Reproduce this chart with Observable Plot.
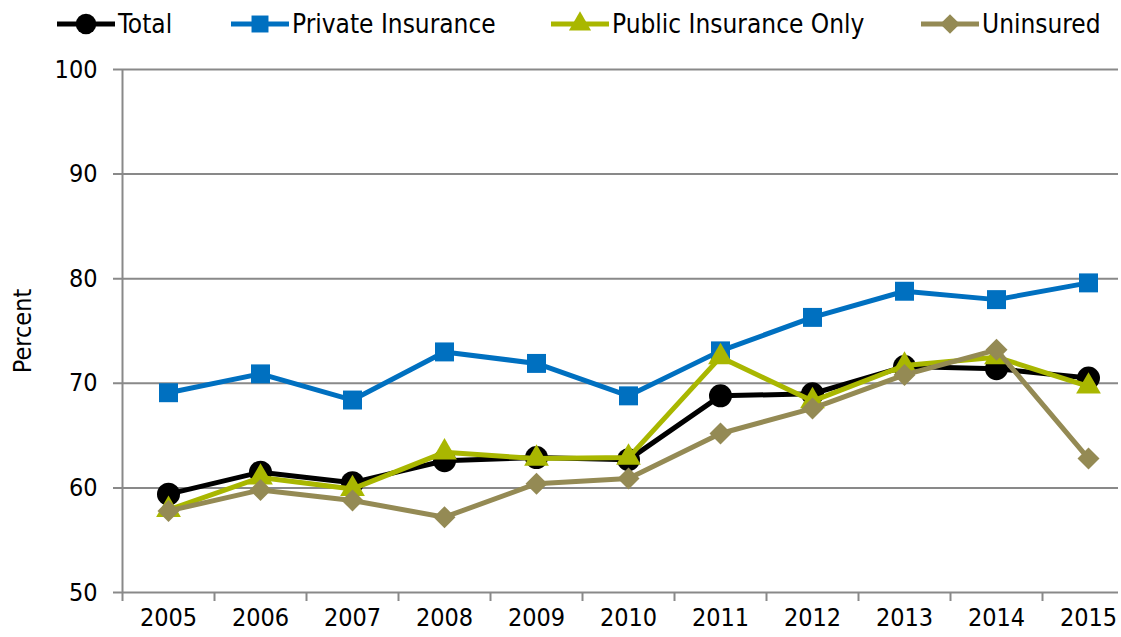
<!DOCTYPE html>
<html><head><meta charset="utf-8">
<script src="https://cdn.jsdelivr.net/npm/d3@7"></script>
<script src="https://cdn.jsdelivr.net/npm/@observablehq/plot@0.6"></script>
<style>
body{margin:0;background:#fff;font-family:"DejaVu Sans Condensed","DejaVu Sans",sans-serif;}
#wrap{position:relative;width:1121px;height:637px;overflow:hidden;background:#fff}
#legend{position:relative;height:48px}
.item{position:absolute;top:0;height:48px;display:flex;align-items:center;font-size:26px;color:#000;white-space:nowrap}
.item svg{margin-right:3px}
</style></head><body>
<div id="wrap"><div id="legend"></div><div id="chart"></div></div>
<script>
// ---- data ----
const years = [2005, 2006, 2007, 2008, 2009, 2010, 2011, 2012, 2013, 2014, 2015];
const seriesNames = ["Total", "Private Insurance", "Public Insurance Only", "Uninsured"];
const total      = [59.4, 61.5, 60.5, 62.6, 62.9, 62.7, 68.8, 69.0, 71.6, 71.4, 70.5];
const privateIns = [69.1, 70.9, 68.4, 73.0, 71.9, 68.8, 73.1, 76.3, 78.8, 78.0, 79.6];
const publicOnly = [57.9, 61.0, 59.9, 63.4, 62.8, 62.9, 72.5, 68.3, 71.7, 72.5, 69.7];
const uninsured  = [57.8, 59.8, 58.8, 57.2, 60.4, 60.9, 65.2, 67.6, 70.8, 73.2, 62.8];
const yTicks = [50, 60, 70, 80, 90, 100];
const yLabel = "Percent";

// ---- styles ----
const colors = ["#000000", "#0070C0", "#A9B700", "#948A54"];
const symbols = ["circle", "square", "triangle", "diamond2"];
const d3symbols = [d3.symbolCircle, d3.symbolSquare, d3.symbolTriangle, d3.symbolDiamond2];
const radii = [11.5, 10.7, 9.2, 9.9];
const legendLeft = [57, 231, 551, 921];
const FONT = '"DejaVu Sans Condensed","DejaVu Sans",sans-serif';

const valuesBySeries = [total, privateIns, publicOnly, uninsured];
const data = seriesNames.map((s, i) => years.map((y, j) => ({series: s, year: y, value: valuesBySeries[i][j]})));

// ---- legend ----
const legend = d3.select("#legend");
seriesNames.forEach((name, i) => {
  const item = legend.append("div").attr("class", "item").style("left", legendLeft[i] + "px");
  const svg = item.append("svg").attr("width", 58).attr("height", 30);
  svg.append("line").attr("x1", 0).attr("x2", 58).attr("y1", 15).attr("y2", 15)
    .attr("stroke", colors[i]).attr("stroke-width", 5);
  svg.append("path").attr("transform", "translate(29,15)")
    .attr("d", d3.symbol().type(d3symbols[i]).size(Math.PI * radii[i] * radii[i] * 0.8)())
    .attr("fill", colors[i]);
  item.append("span").text(name);
});

// ---- chart ----
const boundaries = years.map(y => y - 0.5).concat([years[years.length - 1] + 0.5]);
const GRID = "#898989";

const marks = [
  Plot.ruleY(yTicks, {stroke: GRID, strokeWidth: 2}),
  Plot.ruleX([boundaries[0]], {y1: yTicks[0], y2: yTicks[yTicks.length - 1], stroke: GRID, strokeWidth: 2}),
  Plot.axisX(boundaries, {tickSize: 9, stroke: GRID, strokeWidth: 2, tickFormat: () => "", label: null}),
  Plot.axisX(years, {tickSize: 0, tickPadding: 16, tickFormat: d => String(d), fontSize: 25, fill: "#000", label: null}),
  Plot.axisY(yTicks, {tickSize: 0, tickPadding: 16, fontSize: 25, fill: "#000", label: null}),
  Plot.text([yLabel], {frameAnchor: "left", textAnchor: "middle", lineAnchor: "middle", rotate: -90, dx: -91, fontSize: 25, fill: "#000"})
];
data.forEach((d, i) => {
  marks.push(Plot.line(d, {x: "year", y: "value", stroke: colors[i], strokeWidth: 5}));
  marks.push(Plot.dot(d, {x: "year", y: "value", fill: colors[i], symbol: symbols[i], r: radii[i]}));
});

const chart = Plot.plot({
  width: 1121,
  height: 589,
  marginLeft: 113,
  marginRight: 3,
  marginTop: 21,
  marginBottom: 45,
  style: {fontFamily: FONT, fontSize: "25px", color: "#000", background: "#fff", overflow: "visible"},
  x: {type: "linear", domain: [boundaries[0], boundaries[boundaries.length - 1]], range: [122, 1134]},
  y: {domain: [yTicks[0], yTicks[yTicks.length - 1]]},
  marks
});
document.getElementById("chart").appendChild(chart);
</script>
</body></html>
